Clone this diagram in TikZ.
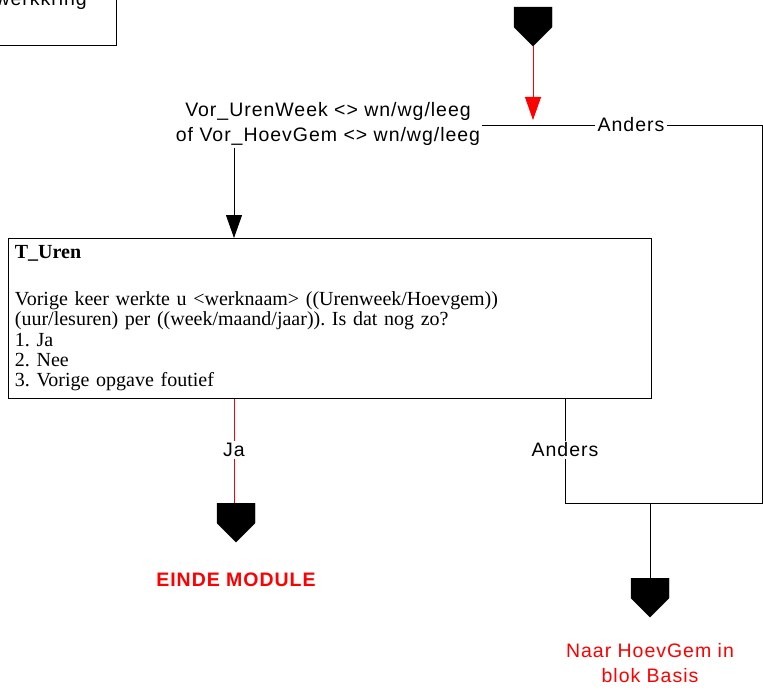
\documentclass[tikz,border=0pt]{standalone}
\usepackage{fontspec}
\setmainfont{Liberation Serif}
\setsansfont{Liberation Sans}
\newfontfamily\lblfont{Liberation Sans}[LetterSpace=5]
\usetikzlibrary{arrows.meta,shapes.symbols}

\tikzset{
    flow/.style={line width=0.8pt},
    tip/.style={-{Triangle[width=16pt,length=23pt]}},
    exitmark/.style={signal, signal to=south, signal from=nowhere,
        signal pointer angle=90, fill=black, draw=black,
        minimum width=38pt, minimum height=20pt, inner sep=0pt, anchor=north},
    lbl/.style={font=\lblfont\fontsize{19.5}{25}\selectfont, inner sep=2pt, fill=white},
    redlbl/.style={lbl, text=red},
    qbox/.style={draw, line width=0.8pt, anchor=north west, align=left,
        text width=630pt, minimum width=643pt, minimum height=160pt,
        inner sep=6pt, font=\frenchspacing\fontsize{20}{20.3}\selectfont},
}

\begin{document}
\begin{tikzpicture}[x=1pt, y=-1pt]
    \useasboundingbox (0,0) rectangle (763,698);
    \clip (0,0) rectangle (763,698);

    % box of the block above
    \node[draw, line width=0.8pt, minimum width=200pt, minimum height=80pt, anchor=south east] (prevbox) at (117,46) {};
    \node[lbl, fill=none, anchor=base east] (prevtxt) at (89,6) {werkkring};

    % entry from above
    \node[exitmark] (topmark) at (533,7) {};
    \node[lbl, align=center] (cond) at (328,124) {Vor\_UrenWeek <> wn/wg/leeg\\of Vor\_HoevGem <> wn/wg/leeg};
    \node[lbl] (anders1) at (631,125) {Anders};

    \node[qbox] (tbox) at (8,238) {\textbf{T\_Uren}\\[26.3pt]
        Vorige keer werkte u <werknaam> ((Urenweek/Hoevgem))\\
        (uur/lesuren) per ((week/maand/jaar)). Is dat nog zo?\\
        1. Ja\\
        2. Nee\\
        3. Vorige opgave foutief};

    \node[lbl] (ja) at (234,450) {Ja};
    \node[lbl] (anders2) at (565,450) {Anders};

    \node[exitmark] (endmark) at (236,503) {};
    \node[redlbl, font=\lblfont\bfseries\fontsize{19.5}{25}\selectfont] (endtxt) at (236,580) {EINDE MODULE};

    \coordinate (join) at (650,503);
    \node[exitmark] (naarmark) at (650,578) {};
    \node[redlbl, align=center] (naartxt) at (650,663) {Naar HoevGem in\\blok Basis};

    % connectors
    \draw[flow, red, tip, shorten >=5pt] (topmark.south) -- (topmark.south |- anders1);
    \draw[flow] (cond.east |- anders1) -- (anders1.west);
    \draw[flow] (anders1.east) -- (762,125) -- (762,503) -- (anders2 |- join) -- (anders2.south);
    \draw[flow, tip] (cond.south -| ja) -- (tbox.north -| ja);
    \draw[flow, red] (tbox.south -| ja) -- (ja.north);
    \draw[flow, red] (ja.south) -- (ja |- endmark.north);
    \draw[flow] (tbox.south -| anders2) -- (anders2.north);
    \draw[flow] (join) -- (naarmark.north);
\end{tikzpicture}
\end{document}
